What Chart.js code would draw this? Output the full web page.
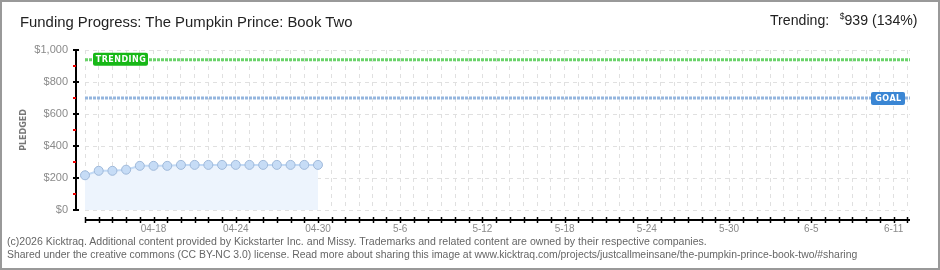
<!DOCTYPE html>
<html>
<head>
<meta charset="utf-8">
<script src="https://cdn.jsdelivr.net/npm/chart.js@4.4.0/dist/chart.umd.min.js"></script>
<style>
body{margin:0;background:#fff;}
#wrap{position:relative;width:940px;height:270px;overflow:hidden;background:#fff;}
#grafico{position:absolute;left:0;top:0;}
#marco{position:absolute;left:0;top:0;width:940px;height:270px;box-sizing:border-box;border:2px solid #999;pointer-events:none;}
#titulo{position:absolute;left:20px;top:13px;font:15px 'Liberation Sans';color:#222;white-space:nowrap;transform-origin:left top;}
#trend{position:absolute;left:770px;top:11px;font:15px 'Liberation Sans';color:#222;white-space:nowrap;transform-origin:left top;}
#trend sup{font-size:9px;vertical-align:6px;margin-left:7px;}
.pie{position:absolute;left:7px;font:10px 'Liberation Sans';color:#666;white-space:nowrap;transform-origin:left top;}
</style>
</head>
<body>
<div id="wrap">
  <canvas id="grafico" width="940" height="270"></canvas>
  <div id="titulo">Funding Progress: The Pumpkin Prince: Book Two</div>
  <div id="trend">Trending: <sup>$</sup>939 (134%)</div>
  <div class="pie" id="pie1" style="top:236px">(c)2026 Kicktraq. Additional content provided by Kickstarter Inc. and Missy. Trademarks and related content are owned by their respective companies.</div>
  <div class="pie" id="pie2" style="top:249px">Shared under the creative commons (CC BY-NC 3.0) license. Read more about sharing this image at www.kicktraq.com/projects/justcallmeinsane/the-pumpkin-prince-book-two/#sharing</div>
  <div id="marco"></div>
</div>
<script>
// datos (dia 0 = 04-13)
var pledged = [217,245,245,252,276,276,276,282,282,282,282,282,282,282,282,282,282,282];
var goal = 700;
var trending = 939;
var lastDay = 60.2;
var tickDays = [5,11,17,23,29,35,41,47,53,59];
var tickLabels = ['04-18','04-24','04-30','5-6','5-12','5-18','5-24','5-30','6-5','6-11'];

var puntos = pledged.map(function(v,i){ return {x:i, y:v}; });

// ajustar el ancho de los textos al original (fuente mas angosta alli)
function ajustar(id, ancho){
  var el = document.getElementById(id);
  el.style.transform = 'scaleX(' + (ancho / el.offsetWidth) + ')';
}
ajustar('titulo', 332);
ajustar('trend', 148);
ajustar('pie1', 700);
ajustar('pie2', 850);

// ejes separados del area, como en kicktraq
var ejes = {
  id:'ejes',
  afterDraw: function(chart){
    var ctx = chart.ctx, sx = chart.scales.x, sy = chart.scales.y;
    var ax = sx.left - 9, ay = sy.bottom + 10;
    ctx.save();
    ctx.strokeStyle = '#000';
    ctx.lineWidth = 2;
    ctx.beginPath();
    ctx.moveTo(ax, sy.top); ctx.lineTo(ax, sy.bottom + 1);
    ctx.stroke();
    for (var v = 0; v <= 1000; v += 100) {
      var py = Math.round(sy.getPixelForValue(v));
      ctx.beginPath();
      if (v % 200 == 0) { ctx.strokeStyle = '#000'; ctx.moveTo(ax - 3, py); ctx.lineTo(ax + 3, py); }
      else { ctx.strokeStyle = '#e00'; ctx.moveTo(ax - 3, py); ctx.lineTo(ax, py); }
      ctx.stroke();
    }
    ctx.strokeStyle = '#000';
    ctx.beginPath();
    ctx.moveTo(sx.left, ay); ctx.lineTo(sx.right, ay);
    ctx.stroke();
    ctx.lineWidth = 1.5;
    for (var d = 0; d <= Math.floor(lastDay); d++) {
      var px = Math.round(sx.getPixelForValue(d)) + 0.5;
      ctx.beginPath(); ctx.moveTo(px, ay - 3); ctx.lineTo(px, ay + 3); ctx.stroke();
    }
    ctx.restore();
  },
  afterDatasetsDraw: function(chart){
    var ctx = chart.ctx, sx = chart.scales.x, sy = chart.scales.y;
    ctx.save();
    ctx.font = 'bold 8px "DejaVu Sans"';
    ctx.textBaseline = 'middle';
    ctx.textAlign = 'center';
    try { ctx.letterSpacing = '0.5px'; } catch(e) {}
    // caja TRENDING
    var ty = sy.getPixelForValue(trending);
    ctx.fillStyle = '#17b817';
    ctx.beginPath(); ctx.roundRect(sx.left + 8, ty - 7, 55, 13, 2); ctx.fill();
    ctx.fillStyle = '#fff';
    ctx.fillText('TRENDING', sx.left + 36, ty);
    // caja GOAL
    var gy = sy.getPixelForValue(goal);
    ctx.fillStyle = '#3a86d4';
    ctx.beginPath(); ctx.roundRect(sx.right - 39, gy - 6, 34, 13, 2); ctx.fill();
    ctx.fillStyle = '#fff';
    ctx.fillText('GOAL', sx.right - 21.5, gy + 0.5);
    ctx.restore();
  }
};

var ctx = document.getElementById('grafico').getContext('2d');
var myChart = new Chart(ctx, {
  type: 'line',
  data: {
    datasets: [
      {
        data: puntos,
        borderColor: '#c3daf5',
        borderWidth: 2,
        backgroundColor: '#edf4fd',
        fill: 'origin',
        pointRadius: 4.5,
        pointBackgroundColor: '#c6dcf6',
        pointBorderColor: '#9fb9da',
        pointBorderWidth: 1,
        tension: 0,
        clip: 8,
        order: 0
      },
      {
        data: [{x:0, y:trending}, {x:lastDay, y:trending}],
        borderColor: '#6ad36a',
        borderWidth: 3,
        borderDash: [3,1],
        pointRadius: 0,
        fill: false,
        order: 1
      },
      {
        data: [{x:0, y:goal}, {x:lastDay, y:goal}],
        borderColor: '#94b5de',
        borderWidth: 3,
        borderDash: [3,1],
        pointRadius: 0,
        fill: false,
        order: 2
      }
    ]
  },
  options: {
    responsive: false,
    animation: false,
    layout: { padding: { left: 0, top: 50, right: 30, bottom: 0 } },
    plugins: { legend: { display: false }, tooltip: { enabled: false } },
    scales: {
      x: {
        type: 'linear',
        min: 0,
        max: lastDay,
        afterFit: function(s){ s.height = 60; },
        border: { display: false, dash: [4,4] },
        grid: { color: '#e0e0e0', drawTicks: false },
        ticks: {
          stepSize: 1,
          autoSkip: false,
          maxRotation: 0,
          includeBounds: false,
          padding: 13,
          color: '#8a8a8a',
          font: { family: 'Liberation Sans', size: 10 },
          callback: function(v){
            var i = tickDays.indexOf(v);
            return i >= 0 ? tickLabels[i] : '';
          }
        }
      },
      y: {
        min: 0,
        max: 1000,
        afterFit: function(s){ s.width = 85; },
        border: { display: false, dash: [4,4] },
        grid: { color: '#e0e0e0', drawTicks: false },
        title: { display: true, text: 'PLEDGED', color: '#777', font: { family: 'DejaVu Sans', size: 8, weight: 'bold' }, padding: { top: 19, bottom: 0 } },
        ticks: {
          stepSize: 100,
          padding: 17,
          color: '#8a8a8a',
          font: { family: 'Liberation Sans', size: 11 },
          callback: function(v){
            return v % 200 == 0 ? '$' + v.toLocaleString('en-US') : '';
          }
        }
      }
    }
  },
  plugins: [ejes]
});
</script>
</body>
</html>
